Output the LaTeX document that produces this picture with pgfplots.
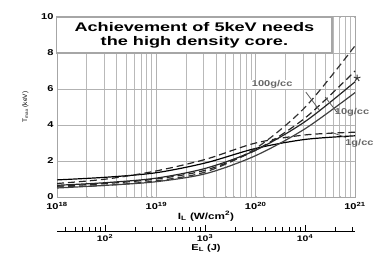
\documentclass[border=0pt]{standalone}
\usepackage{pgfplots}
\pgfplotsset{compat=1.18}
\usepackage{fontspec}
\setmainfont{Liberation Sans}
\newfontfamily\wb[FakeStretch=1.3]{Liberation Sans}
\newfontfamily\wt[FakeStretch=1.45]{Liberation Sans}
\usetikzlibrary{plotmarks}
\begin{document}
\begin{tikzpicture}
\begin{axis}[
  scale only axis, width=298bp, height=180bp,
  xmode=log, log basis x=10,
  xmin=1e18, xmax=1e21, ymin=0, ymax=10,
  xtick={1e18,1e19,1e20,1e21},
  minor xtick={2e18,3e18,4e18,5e18,6e18,7e18,8e18,9e18,2e19,3e19,4e19,5e19,6e19,7e19,8e19,9e19,2e20,3e20,4e20,5e20,6e20,7e20,8e20,9e20},
  xticklabels={10\textsuperscript{18},10\textsuperscript{19},10\textsuperscript{20},10\textsuperscript{21}},
  ytick={0,2,4,6,8,10},
  /pgf/number format/assume math mode=true,
  tick label style={font=\wb\bfseries\fontsize{8.5bp}{9bp}\selectfont},
  xticklabel style={yshift=-1.5bp},
  xmajorgrids=true, xminorgrids=true, ymajorgrids=true,
  major grid style={draw=gray!60, line width=1pt},
  minor grid style={draw=gray!55, line width=0.9pt},
  axis line style={gray!70, line width=1pt},
  tick style={gray!55},
  major tick length=1bp, minor tick length=1bp,
  xlabel={\wb\bfseries\fontsize{9bp}{10bp}\selectfont I\textsubscript{L} (W/cm\textsuperscript{2})},
  xlabel style={yshift=6bp},
  ylabel={\fontsize{6.5bp}{7bp}\selectfont T\textsubscript{max} (keV)},
  ylabel style={yshift=6bp},
  clip=false,
]
% 1 g/cc solid
\addplot[black, line width=1.2pt, smooth] coordinates {(1e18,0.95)(3.16e18,1.1)(1e19,1.35)(3.16e19,1.9)(1e20,2.7)(3.16e20,3.2)(1e21,3.4)};
% 1 g/cc dashed
\addplot[black!85, line width=1.2pt, smooth, dash pattern=on 7bp off 4bp] coordinates {(1e18,0.75)(3.16e18,1.0)(1e19,1.45)(3.16e19,2.1)(1e20,3.0)(3.16e20,3.45)(1e21,3.6)};
% 100 g/cc dashed top
\addplot[black!80, line width=1.2pt, smooth, dash pattern=on 7bp off 4bp] coordinates {(1e18,0.55)(3.16e18,0.65)(1e19,0.9)(3.16e19,1.4)(1e20,2.7)(3.16e20,5.0)(1e21,8.4)};
% 100 g/cc dashed 2
\addplot[black!85, line width=1.2pt, smooth, dash pattern=on 7bp off 4bp] coordinates {(1e18,0.6)(3.16e18,0.75)(1e19,1.0)(3.16e19,1.5)(1e20,2.6)(3.16e20,4.4)(1e21,7.0)};
% 10 g/cc solid
\addplot[black!85, line width=1.2pt, smooth] coordinates {(1e18,0.65)(3.16e18,0.8)(1e19,1.05)(3.16e19,1.6)(1e20,2.6)(3.16e20,4.2)(1e21,6.4)};
% 10 g/cc solid 2
\addplot[black!75, line width=1.2pt, smooth] coordinates {(1e18,0.5)(3.16e18,0.65)(1e19,0.85)(3.16e19,1.3)(1e20,2.3)(3.16e20,3.8)(1e21,5.8)};
% star
\addplot[only marks, mark=star, mark size=3.5pt, black!80, line width=0.9pt] coordinates {(1.05e21,6.6)};
% title box
\node[draw=gray!70, line width=1.2pt, fill=white, minimum width=275bp, minimum height=36bp, align=center,
  font=\wt\bfseries\fontsize{12.5bp}{14bp}\selectfont, inner sep=0pt]
  at (rel axis cs:0.461,0.9) {Achievement of 5keV needs\\the high density core.};
% labels
\node[font=\wb\bfseries\fontsize{8.5bp}{9bp}\selectfont, text=gray!80!black, fill=white, inner sep=0.5pt]
  at (rel axis cs:0.722,0.627) {100g/cc};
\node[font=\wb\bfseries\fontsize{8.5bp}{9bp}\selectfont, text=gray!80!black, anchor=west, inner sep=0.5pt]
  at (rel axis cs:0.93,0.47) {10g/cc};
\node[font=\wb\bfseries\fontsize{8.5bp}{9bp}\selectfont, text=gray!80!black, anchor=west, inner sep=0.5pt]
  at (rel axis cs:0.965,0.30) {1g/cc};
\draw[gray!70!black, line width=0.8pt] (rel axis cs:0.835,0.583) -- (rel axis cs:0.88,0.483);
\draw[gray!70!black, line width=0.8pt] (rel axis cs:0.94,0.47) -- (rel axis cs:0.90,0.555);
\draw[gray!70!black, line width=0.8pt] (rel axis cs:0.97,0.33) -- (rel axis cs:0.92,0.36);
\end{axis}
\begin{axis}[
  at={(0bp,-34bp)}, anchor=south west,
  scale only axis, width=298bp, height=1bp,
  xmode=log, log basis x=10,
  xmin=33.1, xmax=31623, ymin=0, ymax=1,
  axis y line=none, axis x line=bottom,
  axis line style={-, black, line width=0.8pt},
  tick align=inside, tick style={black, line width=0.8pt},
  major tick length=6bp, minor tick length=3.5bp,
  xtick={100,1000,10000},
  minor xtick={40,50,60,70,80,90,200,300,400,500,600,700,800,900,2000,3000,4000,5000,6000,7000,8000,9000,20000,30000},
  xticklabels={10\textsuperscript{2},10\textsuperscript{3},10\textsuperscript{4}},
  tick label style={font=\wb\bfseries\fontsize{8bp}{9bp}\selectfont},
  xlabel={\wb\bfseries\fontsize{8.5bp}{10bp}\selectfont E\textsubscript{L} (J)},
  xlabel style={yshift=4bp},
]
\addplot[draw=none] coordinates {(100,0.5)};
\end{axis}
\pgfresetboundingbox
\path[use as bounding box] (-57bp,-60bp) rectangle (328bp,197bp);
\end{tikzpicture}
\end{document}
